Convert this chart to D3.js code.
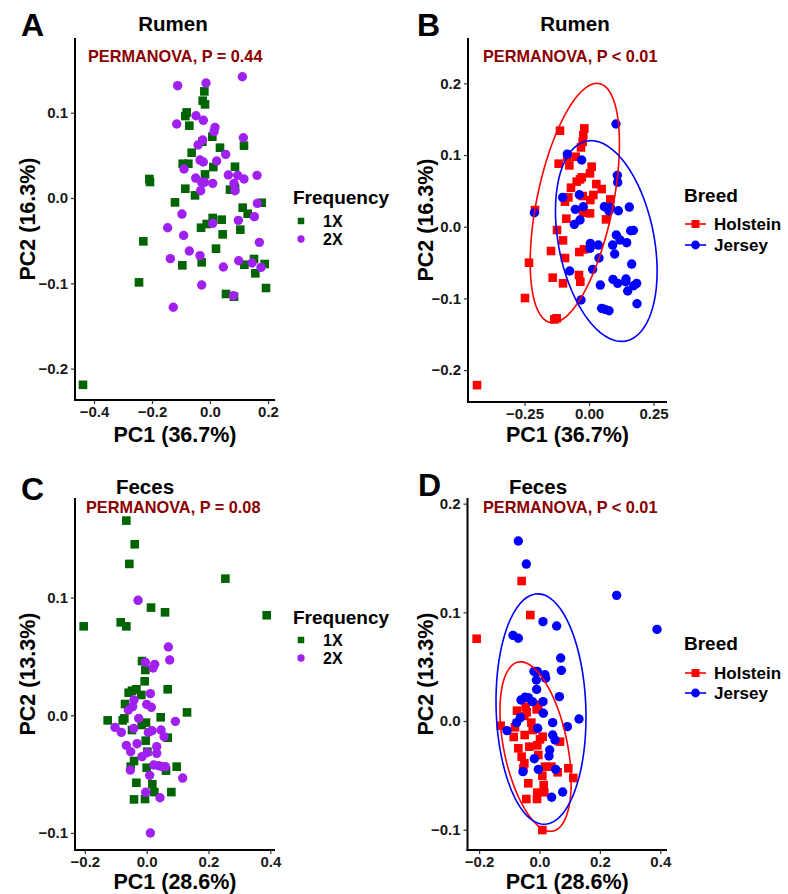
<!DOCTYPE html>
<html>
<head>
<meta charset="utf-8">
<script src="https://cdn.jsdelivr.net/npm/d3@7"></script>
<style>
  body { margin: 0; background: #fff; }
  svg { display: block; }
  text { font-family: "Liberation Sans", Arial, Helvetica, sans-serif; font-weight: bold; }
</style>
</head>
<body>
<svg id="fig" width="788" height="894"></svg>
<script>
// ---- Rumen PCoA scores (PC1, PC2), split by milking frequency ----
const rumen1X = [
  [-0.0195,0.1250],[-0.0253,0.1141],[-0.0172,0.1098],[-0.0805,0.1004],[-0.0851,0.0961],
  [-0.0713,0.0848],[0.0080,0.0719],[-0.0264,0.0660],[0.0345,0.0590],[0.1172,0.0614],
  [-0.0632,0.0531],[-0.0943,0.0402],[-0.0747,0.0402],[0.0115,0.0363],[0.0862,0.0367],
  [-0.0172,0.0277],[-0.2092,0.0223],[-0.2069,0.0188],[-0.0851,0.0109],[-0.0517,0.0031],
  [0.0690,0.0098],[0.0862,0.0113],[-0.1207,-0.0051],[0.1782,-0.0055],[0.1126,-0.0113],
  [0.1299,-0.0184],[0.0092,-0.0234],[0.0402,-0.0254],[-0.0115,-0.0305],[-0.0310,-0.0348],
  [0.0437,-0.0426],[0.1046,-0.0371],[-0.2299,-0.0508],[0.0207,-0.0594],[-0.0287,-0.0754],
  [-0.0954,-0.0789],[0.1517,-0.0715],[0.1184,-0.0782],[0.1885,-0.0774],[0.1563,-0.0883],
  [-0.2448,-0.0989],[0.1931,-0.1055],[0.0552,-0.1125],[0.0828,-0.1157],[-0.4380,-0.2190]
];
const rumen2X = [
  [-0.1115,0.1317],[-0.0138,0.1348],[0.1115,0.1422],[-0.0483,0.0965],[-0.0230,0.0911],
  [-0.1149,0.0868],[0.0172,0.0828],[0.0138,0.0778],[-0.0253,0.0680],[0.1149,0.0707],
  [-0.0414,0.0621],[0.0540,0.0512],[-0.0345,0.0445],[-0.0230,0.0422],[0.0230,0.0434],
  [-0.0897,0.0340],[-0.0494,0.0234],[0.0632,0.0270],[0.0954,0.0266],[0.1172,0.0223],
  [0.1621,0.0266],[-0.0287,0.0184],[-0.0195,0.0184],[0.0092,0.0172],[0.0828,0.0172],
  [0.0862,0.0086],[-0.0322,0.0086],[0.1632,-0.0063],[-0.0966,-0.0188],[0.1529,-0.0219],
  [0.0977,-0.0262],[0.0092,-0.0297],[-0.1460,-0.0348],[-0.0908,-0.0438],[0.1701,-0.0520],
  [-0.0713,-0.0621],[-0.0345,-0.0676],[-0.1368,-0.0711],[0.0989,-0.0735],[0.1448,-0.0762],
  [0.1759,-0.0813],[0.0460,-0.0809],[-0.0287,-0.1020],[0.0805,-0.1145],[-0.1266,-0.1281]
];

// ---- Rumen PCoA scores, split by breed ----
const rumenHolstein = [
  [-0.1124,0.1339],[-0.0181,0.1371],[-0.0220,0.1278],[-0.0245,0.1185],[-0.0310,0.1106],
  [-0.0840,0.0976],[-0.0517,0.0976],[-0.1176,0.0879],[-0.0762,0.0855],[0.0103,0.0837],
  [0.0039,0.0744],[-0.0284,0.0688],[-0.0349,0.0660],[-0.0478,0.0628],[0.0284,0.0595],
  [-0.0698,0.0544],[0.0491,0.0525],[-0.0801,0.0409],[-0.0930,0.0349],[-0.0245,0.0428],
  [0.0168,0.0442],[0.0052,0.0372],[0.0827,0.0381],[-0.2093,0.0232],[-0.0233,0.0195],
  [0.0039,0.0186],[-0.0879,0.0112],[0.0659,0.0102],[-0.1240,-0.0046],[-0.1008,-0.0191],
  [-0.1473,-0.0339],[-0.0194,-0.0316],[-0.0375,-0.0353],[-0.0930,-0.0437],[-0.2326,-0.0502],
  [-0.1408,-0.0711],[-0.1008,-0.0790],[-0.0388,-0.0674],[-0.0336,-0.0767],[-0.2481,-0.0995],
  [-0.1344,-0.1292],[-0.1253,-0.1278],[-0.4340,-0.2210]
];
const rumenJersey = [
  [0.1047,0.1432],[-0.0840,0.1013],[-0.0284,0.0930],[0.1098,0.0716],[0.1111,0.0618],
  [-0.1021,0.0409],[-0.0375,0.0446],[-0.0220,0.0279],[-0.0530,0.0242],[0.0594,0.0279],
  [0.0775,0.0219],[0.1137,0.0223],[0.1563,0.0274],[0.0827,0.0270],[-0.0349,0.0093],
  [-0.0568,0.0033],[-0.2119,0.0195],[0.1059,-0.0116],[0.1202,-0.0186],[0.0917,-0.0256],
  [0.1460,-0.0223],[0.1615,-0.0056],[0.1718,-0.0051],[0.0052,-0.0232],[0.0362,-0.0256],
  [0.0039,-0.0302],[0.0995,-0.0381],[0.0388,-0.0437],[0.1654,-0.0521],[-0.0749,-0.0618],
  [0.0142,-0.0595],[0.0930,-0.0735],[0.1111,-0.0790],[0.1434,-0.0730],[0.1421,-0.0767],
  [0.1731,-0.0823],[0.1848,-0.0790],[0.1499,-0.0897],[0.0439,-0.0814],[-0.0310,-0.1023],
  [0.1860,-0.1074],[0.0491,-0.1139],[0.0620,-0.1153],[0.0775,-0.1172]
];

// ---- Feces PCoA scores, split by milking frequency ----
const feces1X = [
  [-0.0658,0.1653],[-0.0388,0.1452],[-0.0561,0.1285],[0.2546,0.1160],[0.0140,0.0914],
  [0.0593,0.0874],[0.3883,0.0849],[-0.2039,0.0755],[-0.0841,0.0789],[-0.0658,0.0755],
  [-0.0151,0.0460],[-0.0043,0.0384],[-0.0065,0.0288],[-0.0475,0.0208],[-0.0334,0.0220],
  [-0.0583,0.0191],[-0.0701,0.0095],[0.0680,0.0220],[-0.0173,0.0172],[0.1305,0.0024],
  [-0.1262,-0.0044],[-0.0777,-0.0044],[-0.0723,-0.0027],[0.0453,-0.0018],[-0.0475,-0.0126],
  [-0.0162,-0.0083],[-0.0022,-0.0063],[-0.0032,-0.0216],[0.0680,-0.0191],[0.0022,-0.0310],
  [-0.0410,-0.0389],[-0.0518,-0.0437],[0.0626,-0.0471],[0.0971,-0.0437],[0.0000,-0.0446],
  [-0.0334,-0.0574],[0.0183,-0.0587],[0.0248,-0.0653],[0.0798,-0.0653],[-0.0410,-0.0715],
  [-0.0054,-0.0712]
];
const feces2X = [
  [-0.0280,0.0976],[0.0701,0.0579],[0.0744,0.0469],[-0.0043,0.0449],[0.0259,0.0432],
  [0.0205,0.0401],[0.0119,0.0183],[0.0000,0.0092],[0.0151,0.0067],[-0.0410,0.0129],
  [-0.0453,0.0073],[-0.0593,0.0044],[-0.0259,-0.0027],[0.0928,-0.0052],[-0.1025,-0.0103],
  [-0.0820,-0.0146],[-0.0421,-0.0112],[0.0054,-0.0146],[0.0173,-0.0132],[0.0464,-0.0126],
  [0.0561,-0.0182],[-0.0658,-0.0256],[-0.0313,-0.0242],[-0.0518,-0.0310],[0.0324,-0.0267],
  [0.0324,-0.0324],[0.0011,-0.0319],[-0.0151,-0.0352],[-0.0529,-0.0466],[0.0227,-0.0423],
  [0.0388,-0.0429],[0.0507,-0.0437],[0.0604,-0.0437],[0.0097,-0.0511],[0.1165,-0.0534],
  [-0.0032,-0.0655],[0.0431,-0.0701],[0.0119,-0.1001]
];

// ---- Feces PCoA scores, split by breed ----
const fecesHolstein = [
  [-0.0591,0.1288],[-0.0304,0.0975],[-0.2081,0.0757],[-0.0458,0.0132],[-0.0039,0.0150],
  [-0.0094,0.0107],[-0.0745,0.0095],[-0.0425,0.0080],[-0.0502,0.0046],[-0.1286,-0.0043],
  [-0.0811,-0.0058],[-0.0270,-0.0015],[-0.0226,-0.0083],[-0.0855,-0.0147],[-0.0491,-0.0129],
  [0.0105,-0.0144],[0.0017,-0.0169],[0.0679,-0.0190],[-0.0701,-0.0251],[-0.0337,-0.0236],
  [-0.0072,-0.0224],[-0.0039,-0.0313],[-0.0591,-0.0328],[-0.0502,-0.0389],[-0.0535,-0.0435],
  [0.0182,-0.0420],[0.0392,-0.0420],[0.0602,-0.0472],[0.0955,-0.0435],[0.1120,-0.0524],
  [0.0094,-0.0503],[-0.0370,-0.0573],[0.0138,-0.0589],[-0.0072,-0.0659],[0.0160,-0.0656],
  [-0.0436,-0.0718],[-0.0083,-0.0718],[0.0094,-0.1003]
];
const fecesJersey = [
  [-0.0701,0.1656],[-0.0436,0.1444],[0.2555,0.1156],[0.3891,0.0843],[0.0116,0.0914],
  [0.0568,0.0874],[-0.0877,0.0788],[-0.0701,0.0761],[0.0701,0.0580],[0.0723,0.0466],
  [-0.0182,0.0457],[-0.0072,0.0457],[0.0182,0.0426],[0.0204,0.0393],[-0.0105,0.0377],
  [-0.0094,0.0291],[-0.0613,0.0193],[-0.0480,0.0218],[-0.0370,0.0215],[-0.0237,0.0178],
  [0.0116,0.0178],[0.0657,0.0224],[0.0127,0.0071],[0.0436,-0.0015],[0.1308,0.0018],
  [0.0922,-0.0052],[-0.1076,-0.0089],[-0.0756,-0.0015],[-0.0061,-0.0067],[0.0436,-0.0129],
  [0.0513,-0.0175],[0.0337,-0.0267],[0.0315,-0.0322],[-0.0171,-0.0347],[-0.0039,-0.0445],
  [-0.0546,-0.0466],[0.0535,-0.0445],[0.0767,-0.0653],[0.0403,-0.0702],[-0.0635,0.0031]
];

// ---- 95% breed ellipses: centre, half-width, half-height, correlation ----
const rumenEllipseHolstein = [-0.055, 0.033, 0.173, 0.167, 0.496];
const rumenEllipseJersey   = [0.067, -0.020, 0.197, 0.140, -0.30];
const fecesEllipseHolstein = [-0.013, -0.0235, 0.118, 0.078, -0.42];
const fecesEllipseJersey   = [0.005, 0.011, 0.149, 0.106, -0.07];

// ---- axis ticks and labels ----
const rumenXTicksFreq  = [-0.4, -0.2, 0, 0.2];
const rumenXTicksBreed = [-0.25, 0, 0.25];
const rumenYTicksFreq  = [-0.2, -0.1, 0, 0.1];
const rumenYTicksBreed = [-0.2, -0.1, 0, 0.1, 0.2];
const fecesXTicks      = [-0.2, 0, 0.2, 0.4];
const fecesYTicksFreq  = [-0.1, 0, 0.1];
const fecesYTicksBreed = [-0.1, 0, 0.1, 0.2];
const frequencyLevels = ["1X", "2X"];
const breedLevels = ["Holstein", "Jersey"];

const COL = { "1X": "#006400", "2X": "#A020F0", Holstein: "#FF0000", Jersey: "#0000FF" };
const SHAPE = { "1X": "square", "2X": "circle", Holstein: "square", Jersey: "circle" };

const svg = d3.select("#fig");

const panels = [
  { letter: "A", lx: 21, ly: 36, title: "Rumen", tx: 173, ty: 31,
    stat: "PERMANOVA, P = 0.44", sx: 88, sy: 62,
    box: { l: 75, r: 275, t: 38, b: 400 }, xDom: [-0.4655, 0.2241], yDom: [-0.2368, 0.1876],
    xTicks: rumenXTicksFreq, yTicks: rumenYTicksFreq, xFmt: ".1f",
    xLab: "PC1 (36.7%)", yLab: "PC2 (16.3%)", xLabY: 442, yLabX: 28,
    groups: [["1X", rumen1X], ["2X", rumen2X]], ellipses: [],
    legend: { title: "Frequency", x: 293, y: 197, rows: [221, 239], levels: frequencyLevels, lines: false } },
  { letter: "B", lx: 417, ly: 36, title: "Rumen", tx: 575, ty: 31,
    stat: "PERMANOVA, P < 0.01", sx: 483, sy: 62,
    box: { l: 468, r: 667, t: 38, b: 402 }, xDom: [-0.469, 0.3023], yDom: [-0.2445, 0.2632],
    xTicks: rumenXTicksBreed, yTicks: rumenYTicksBreed, xFmt: ".2f",
    xLab: "PC1 (36.7%)", yLab: "PC2 (16.3%)", xLabY: 442, yLabX: 426,
    groups: [["Holstein", rumenHolstein], ["Jersey", rumenJersey]],
    ellipses: [["Holstein", rumenEllipseHolstein], ["Jersey", rumenEllipseJersey]],
    legend: { title: "Breed", x: 684, y: 195, rows: [224, 245], levels: breedLevels, lines: true } },
  { letter: "C", lx: 21, ly: 500, title: "Feces", tx: 145, ty: 494,
    stat: "PERMANOVA, P = 0.08", sx: 86, sy: 513,
    box: { l: 75, r: 275, t: 498, b: 850 }, xDom: [-0.232, 0.4152], yDom: [-0.1145, 0.1845],
    xTicks: fecesXTicks, yTicks: fecesYTicksFreq, xFmt: ".1f",
    xLab: "PC1 (28.6%)", yLab: "PC2 (13.3%)", xLabY: 889, yLabX: 28,
    groups: [["1X", feces1X], ["2X", feces2X]], ellipses: [],
    legend: { title: "Frequency", x: 293, y: 617, rows: [640, 658], levels: frequencyLevels, lines: false } },
  { letter: "D", lx: 418, ly: 496, title: "Feces", tx: 538, ty: 494,
    stat: "PERMANOVA, P < 0.01", sx: 483, sy: 513,
    box: { l: 467.5, r: 667, t: 498, b: 850 }, xDom: [-0.2384, 0.4222], yDom: [-0.1187, 0.2052],
    xTicks: fecesXTicks, yTicks: fecesYTicksBreed, xFmt: ".1f",
    xLab: "PC1 (28.6%)", yLab: "PC2 (13.3%)", xLabY: 889, yLabX: 426,
    groups: [["Holstein", fecesHolstein], ["Jersey", fecesJersey]],
    ellipses: [["Holstein", fecesEllipseHolstein], ["Jersey", fecesEllipseJersey]],
    legend: { title: "Breed", x: 684, y: 643, rows: [673, 693], levels: breedLevels, lines: true } }
];

function drawMark(g, shape, cx, cy, size, color) {
  if (shape === "square") {
    g.append("rect").attr("x", cx - size / 2).attr("y", cy - size / 2)
      .attr("width", size).attr("height", size).attr("fill", color);
  } else {
    g.append("circle").attr("cx", cx).attr("cy", cy).attr("r", size / 2 + 0.4).attr("fill", color);
  }
}

function ellipsePoints(p) {
  const [cx, cy, sx, sy, rho] = p;
  const k = Math.sqrt(1 - rho * rho);
  return d3.range(0, 101).map(i => {
    const t = (i / 100) * 2 * Math.PI;
    return [cx + sx * Math.cos(t), cy + sy * (rho * Math.cos(t) + k * Math.sin(t))];
  });
}

panels.forEach(p => {
  const g = svg.append("g");
  const x = d3.scaleLinear().domain(p.xDom).range([p.box.l, p.box.r]);
  const y = d3.scaleLinear().domain(p.yDom).range([p.box.b, p.box.t]);

  // panel letter, title and test annotation
  g.append("text").attr("x", p.lx).attr("y", p.ly).attr("font-size", 32).text(p.letter);
  g.append("text").attr("x", p.tx).attr("y", p.ty).attr("text-anchor", "middle")
    .attr("font-size", 20.5).text(p.title);
  g.append("text").attr("x", p.sx).attr("y", p.sy).attr("font-size", 16.3)
    .attr("fill", "#8B0000").text(p.stat);

  // axes
  const xAxis = d3.axisBottom(x).tickValues(p.xTicks).tickFormat(d3.format(p.xFmt))
    .tickSizeInner(4).tickSizeOuter(0).tickPadding(2.5);
  const yAxis = d3.axisLeft(y).tickValues(p.yTicks).tickFormat(d3.format(".1f"))
    .tickSizeInner(4).tickSizeOuter(0).tickPadding(3);
  const gx = g.append("g").attr("transform", `translate(0,${p.box.b})`).call(xAxis);
  const gy = g.append("g").attr("transform", `translate(${p.box.l},0)`).call(yAxis);
  [gx, gy].forEach(a => {
    a.select(".domain").attr("stroke", "#000").attr("stroke-width", 2);
    a.selectAll(".tick line").attr("stroke", "#333").attr("stroke-width", 1.2);
    a.selectAll(".tick text").attr("font-size", 15).attr("fill", "#1a1a1a")
      .attr("font-family", "'Liberation Sans', Arial, sans-serif").attr("font-weight", "bold");
  });
  // extend the axis lines so they meet in the corner
  gx.select(".domain").attr("d", `M${p.box.l - 1},0H${p.box.r}`);
  gy.select(".domain").attr("d", `M0,${p.box.t}V${p.box.b + 1}`);

  g.append("text").attr("x", (p.box.l + p.box.r) / 2).attr("y", p.xLabY)
    .attr("text-anchor", "middle").attr("font-size", 21.5).text(p.xLab);
  g.append("text").attr("transform", `translate(${p.yLabX + 7},${(p.box.t + p.box.b) / 2}) rotate(-90)`)
    .attr("text-anchor", "middle").attr("font-size", 21.5).text(p.yLab);

  // points
  const pts = g.append("g");
  p.groups.forEach(([key, arr]) => {
    arr.forEach(d => drawMark(pts, SHAPE[key], x(d[0]), y(d[1]), 8.6, COL[key]));
  });

  // ellipses
  const line = d3.line().x(d => x(d[0])).y(d => y(d[1])).curve(d3.curveLinearClosed);
  p.ellipses.forEach(([key, par]) => {
    g.append("path").attr("d", line(ellipsePoints(par))).attr("fill", "none")
      .attr("stroke", COL[key]).attr("stroke-width", 1.6);
  });

  // legend
  const L = p.legend;
  const lg = g.append("g");
  lg.append("text").attr("x", L.x).attr("y", L.y + 7).attr("font-size", 19).text(L.title);
  L.levels.forEach((lev, i) => {
    const cy = L.rows[i];
    if (L.lines) {
      lg.append("line").attr("x1", L.x + 1).attr("x2", L.x + 22).attr("y1", cy).attr("y2", cy)
        .attr("stroke", COL[lev]).attr("stroke-width", 1.6);
      drawMark(lg, SHAPE[lev], L.x + 11.5, cy, 8, COL[lev]);
      lg.append("text").attr("x", L.x + 30).attr("y", cy + 6).attr("font-size", 17).text(lev);
    } else {
      drawMark(lg, SHAPE[lev], L.x + 8, cy, 6.5, COL[lev]);
      lg.append("text").attr("x", L.x + 30).attr("y", cy + 5.5).attr("font-size", 16).text(lev);
    }
  });
});
</script>
</body>
</html>
